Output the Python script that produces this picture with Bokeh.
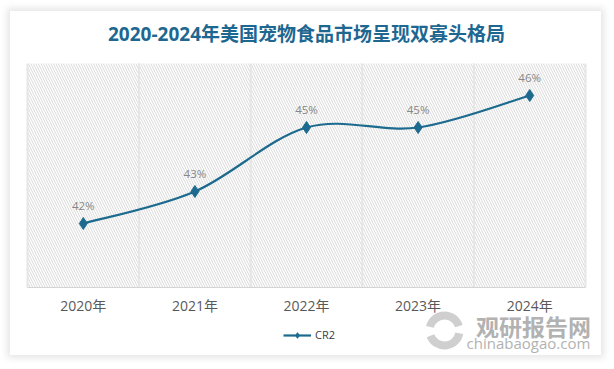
import numpy as np
from bokeh.plotting import figure
from bokeh.models import (Range1d, FixedTicker, Label, Legend, LegendItem, BoxAnnotation)
from bokeh.embed import file_html
from bokeh.resources import INLINE

# ---- data ----
years = ["2020年", "2021年", "2022年", "2023年", "2024年"]
cr2 = [42, 43, 45, 45, 46]
cr2_labels = ["42%", "43%", "45%", "45%", "46%"]
title_text = "2020-2024年美国宠物食品市场呈现双寡头格局"
series_name = "CR2"
y_min, y_max = 40, 47

LINE = "#1c6a8e"
FONT = "Open Sans, Noto Sans CJK SC"

xs = np.arange(len(years), dtype=float)
ys = np.array(cr2, dtype=float)
x_lo, x_hi = -0.5, len(years) - 0.5

# card 591x344 px; plotting area 558x224 px at (17, 52)
W, H = 591, 344
ux = 558 / (x_hi - x_lo)
uy = 224 / (y_max - y_min)
p = figure(width=W, height=H, output_backend="svg", toolbar_location=None,
           x_range=Range1d(x_lo - 17 / ux, x_hi + 16 / ux),
           y_range=Range1d(y_min - 68 / uy, y_max + 52 / uy),
           y_axis_location=None, min_border=0,
           styles={"box-shadow": "0 0 7px 3px rgba(0,0,0,0.10)", "margin": "11px 0 0 10px"})
p.outline_line_color = None
p.background_fill_color = "white"
p.border_fill_color = "white"
p.grid.visible = False

# hatched plot background
p.add_layout(BoxAnnotation(left=x_lo, right=x_hi, bottom=y_min, top=y_max,
                           fill_color="white", fill_alpha=1, line_color=None,
                           hatch_pattern="\\", hatch_color="#d9d9d9",
                           hatch_scale=5, hatch_weight=1, level="image"))
# vertical category separators
sep = np.arange(x_lo, x_hi + 0.01, 1.0)
p.segment(x0=sep, y0=[y_min] * len(sep), x1=sep, y1=[y_max] * len(sep),
          line_color="#e6e6e6", line_width=2)

# x axis drawn at y_min
ax = p.xaxis[0]
ax.fixed_location = y_min
ax.bounds = (x_lo, x_hi)
ax.ticker = FixedTicker(ticks=list(xs))
ax.major_label_overrides = {i: y for i, y in enumerate(years)}
ax.major_tick_line_color = None
ax.minor_tick_line_color = None
ax.major_tick_out = 0
ax.major_tick_in = 0
ax.axis_line_color = "#d4d4d4"
ax.major_label_text_color = "#595959"
ax.major_label_text_font = FONT
ax.major_label_text_font_size = "14px"
ax.major_label_standoff = 8

# smooth curve (Catmull-Rom -> cubic Bezier control points)
px = np.concatenate([[xs[0]], xs, [xs[-1]]])
py = np.concatenate([[ys[0]], ys, [ys[-1]]])
n = len(xs)
x0 = xs[:-1]; y0 = ys[:-1]; x1 = xs[1:]; y1 = ys[1:]
cx0 = x0 + (px[2:n + 1] - px[0:n - 1]) / 6.0
cy0 = y0 + (py[2:n + 1] - py[0:n - 1]) / 6.0
cx1 = x1 - (px[3:n + 2] - px[1:n]) / 6.0
cy1 = y1 - (py[3:n + 2] - py[1:n]) / 6.0
bez = p.bezier(x0=x0, y0=y0, x1=x1, y1=y1, cx0=cx0, cy0=cy0, cx1=cx1, cy1=cy1,
               line_color=LINE, line_width=2.2)
sc = p.scatter(xs, ys, marker="diamond", size=12, fill_color=LINE, line_color=LINE)

# data labels
p.text(x=xs, y=ys, text=cr2_labels, text_align="center", text_baseline="bottom",
       y_offset=-11, text_color="#878787", text_font_size="11.5px",
       text_font={"value": FONT})

# title
p.add_layout(Label(x=(x_lo + x_hi) / 2, y=y_min + 254 / uy, text=title_text,
                   text_align="center", text_baseline="middle", text_font=FONT,
                   text_font_size="19px", text_font_style="bold", text_color="#1d6790"))

# legend
legend = Legend(items=[LegendItem(label=series_name, renderers=[bez, sc])],
                location=(273, 13), orientation="horizontal",
                glyph_width=28, glyph_height=14, label_height=14, padding=0, margin=0,
                spacing=0, label_standoff=4, border_line_color=None,
                background_fill_alpha=0, label_text_font=FONT,
                label_text_font_size="11px", label_text_color="#404040")
p.add_layout(legend, "center")

# watermark
wm_gray = "#b2b2b2"
p.annular_wedge(x=[x_lo + (444 - 27) / ux] * 2, y=[y_min - 43 / uy] * 2,
                inner_radius=11, outer_radius=19, inner_radius_units="screen",
                outer_radius_units="screen", start_angle=[0.3, 3.5],
                end_angle=[2.9, 6.1], fill_color="#cfcfcf", line_color=None)
p.add_layout(Label(x=x_lo + (533 - 27) / ux, y=y_min - 38 / uy, text="观研报告网",
                   text_align="center", text_baseline="middle",
                   text_font="Noto Sans CJK SC", text_font_size="23px",
                   text_font_style="bold", text_color=wm_gray))
p.add_layout(Label(x=x_lo + (528 - 27) / ux, y=y_min - 55 / uy, text="chinabaogao.com",
                   text_align="center", text_baseline="middle", text_font="Open Sans",
                   text_font_size="15px", text_color=wm_gray))

open("out.html", "w").write(file_html(p, INLINE))
